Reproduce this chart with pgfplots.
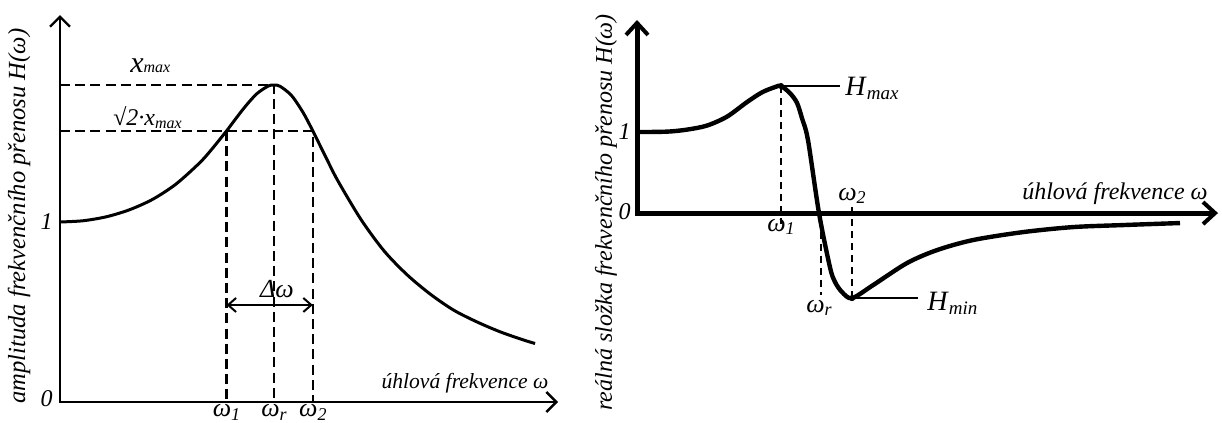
\documentclass[border=0pt]{standalone}
\usepackage{fontspec}
\setmainfont{Liberation Serif}
\usepackage{pgfplots}
\pgfplotsset{compat=1.18}
\usetikzlibrary{arrows.meta}
\newcommand{\om}[1]{\textit{ω}\raisebox{-1.6pt}{\fontsize{9}{9}\selectfont\textit{#1}}}
\newcommand{\Hs}[1]{{\fontsize{14}{14}\selectfont\textit{H}}\raisebox{-2.2pt}{\fontsize{9.5}{9.5}\selectfont\textit{#1}}}
\begin{document}
\begin{tikzpicture}
\path[use as bounding box] (0pt,0pt) rectangle (611pt,-211.5pt);
% ---------------- left panel ----------------
\begin{axis}[at={(30pt,-201pt)}, anchor=south west, scale only axis,
  width=249pt, height=193.5pt, xmin=0, xmax=2.150, ymin=0, ymax=2.15,
  axis lines=none, clip=false]
\addplot[line width=1.2pt, {Straight Barb[length=5pt,width=10pt,line width=1.2pt]}-{Straight Barb[length=5pt,width=10pt,line width=1.2pt]}] coordinates {(0,2.15) (0,0) (2.150,0)};
\addplot[line width=1.2pt, dash pattern=on 5pt off 2.6pt] coordinates {(0,1.761) (0.924,1.761) (0.924,0)};
\addplot[line width=1.2pt, dash pattern=on 5pt off 2.6pt] coordinates {(0,1.506) (1.0915,1.506) (1.0915,0)};
\addplot[line width=1.2pt, dash pattern=on 5pt off 2.6pt] coordinates {(0.7191,1.506) (0.7191,0)};
\addplot[line width=1.5pt, smooth] coordinates {
(0,1.000) (0.1,1.007) (0.2,1.029) (0.3,1.068) (0.4,1.126) (0.5,1.210)
(0.6,1.325) (0.65,1.396) (0.7191,1.506) (0.75,1.559) (0.8,1.642) (0.85,1.713)
(0.9,1.756) (0.924,1.761) (0.95,1.754) (1.0,1.702) (1.05,1.607) (1.0915,1.506)
(1.15,1.354) (1.2,1.228) (1.3,1.013) (1.4,0.838) (1.5,0.705) (1.6,0.598)
(1.7,0.510) (1.8,0.445) (1.9,0.390) (2.0,0.345) (2.051,0.325)};
\addplot[line width=1pt, {Straight Barb[length=4pt,width=7pt,line width=1pt]}-{Straight Barb[length=4pt,width=7pt,line width=1pt]}] coordinates {(0.7191,0.539) (1.0915,0.539)};
\node[font=\fontsize{13}{13}\selectfont] at (axis cs:0.937,0.625) {\textit{Δω}};
\node[font=\fontsize{12}{12}\selectfont, anchor=east, inner sep=0pt] at (axis cs:-0.03,1) {\textit{1}};
\node[font=\fontsize{12}{12}\selectfont, anchor=east, inner sep=0pt] at (axis cs:-0.03,0.02) {\textit{0}};
\node[font=\fontsize{13}{13}\selectfont, anchor=base, inner sep=0pt] at (axis cs:0.7191,-0.083) {\om{1}};
\node[font=\fontsize{13}{13}\selectfont, anchor=base, inner sep=0pt] at (axis cs:0.924,-0.083) {\om{r}};
\node[font=\fontsize{13}{13}\selectfont, anchor=base, inner sep=0pt] at (axis cs:1.0915,-0.083) {\om{2}};
\node[font=\fontsize{10.8}{10.8}\selectfont, anchor=base east, inner sep=0pt] at (axis cs:2.11,0.075) {\textit{úhlová frekvence ω}};
\node[inner sep=0pt] at (axis cs:0.39,1.867) {{\fontsize{15}{15}\selectfont\textit{x}}{\fontsize{8}{8}\selectfont\textit{max}}};
\node[inner sep=0pt, font=\fontsize{12}{12}\selectfont] at (axis cs:0.38,1.58) {\textit{√2·x}\textsubscript{\textit{max}}};
\node[rotate=90, inner sep=0pt, font=\fontsize{12.3}{12.3}\selectfont] at (axis cs:-0.177,1.033) {\textit{amplituda frekvenčního přenosu H(ω)}};
\end{axis}
% ---------------- right panel ----------------
\begin{axis}[at={(318.5pt,-159.2pt)}, anchor=south west, scale only axis,
  width=290.5pt, height=149.2pt, xmin=0, xmax=5.81, ymin=-1.3, ymax=2.383,
  axis lines=none, clip=false]
\addplot[line width=2.5pt, {Straight Barb[length=6pt,width=11pt,line width=2pt]}-{Straight Barb[length=6pt,width=11pt,line width=2pt]}] coordinates {(0,2.383) (0,0) (5.81,0)};
\addplot[line width=0.8pt, dash pattern=on 3.5pt off 2.5pt] coordinates {(1.44,1.568) (1.44,-0.136)};
\addplot[line width=0.8pt, dash pattern=on 3.5pt off 2.5pt] coordinates {(1.84,-0.08) (1.84,-1.01)};
\addplot[line width=0.8pt, dash pattern=on 3.5pt off 2.5pt] coordinates {(2.15,0.074) (2.15,-1.05)};
\addplot[line width=1.2pt] coordinates {(1.44,1.568) (2.03,1.568)};
\addplot[line width=1.2pt] coordinates {(2.15,-1.05) (2.81,-1.05)};
\addplot[line width=2.2pt, smooth, tension=0.5] coordinates {
(0,1.000) (0.3,1.005) (0.5,1.030) (0.7,1.080) (0.9,1.190) (1.1,1.370)
(1.25,1.490) (1.38,1.555) (1.44,1.568)
(1.53,1.48) (1.60,1.36) (1.65,1.17) (1.71,0.90) (1.82,0) (1.93,-0.67)
(1.98,-0.85) (2.05,-0.975) (2.15,-1.05) (2.36,-0.89) (2.70,-0.617)
(3.00,-0.457) (3.36,-0.333) (3.86,-0.235) (4.36,-0.173) (4.86,-0.148) (5.43,-0.123)};
\addplot[only marks, mark=*, mark size=1.3pt] coordinates {(1.44,1.568) (2.15,-1.05)};
\node[font=\fontsize{12}{12}\selectfont, anchor=east, inner sep=0pt] at (axis cs:-0.06,1) {\textit{1}};
\node[font=\fontsize{12}{12}\selectfont, anchor=east, inner sep=0pt] at (axis cs:-0.06,0.02) {\textit{0}};
\node[font=\fontsize{13}{13}\selectfont, anchor=north, inner sep=0pt] at (axis cs:1.44,-0.07) {\om{1}};
\node[font=\fontsize{13}{13}\selectfont, anchor=south, inner sep=0pt] at (axis cs:2.15,0.11) {\om{2}};
\node[font=\fontsize{13}{13}\selectfont, anchor=north, inner sep=0pt] at (axis cs:1.82,-1.07) {\om{r}};
\node[anchor=base west, inner sep=0pt] at (axis cs:2.08,1.457) {\Hs{max}};
\node[anchor=base west, inner sep=0pt] at (axis cs:2.90,-1.198) {\Hs{min}};
\node[font=\fontsize{12}{12}\selectfont, anchor=base east, inner sep=0pt] at (axis cs:5.71,0.17) {\textit{úhlová frekvence ω}};
\node[rotate=90, inner sep=0pt, font=\fontsize{12}{12}\selectfont] at (axis cs:-0.31,0.01) {\textit{reálná složka frekvenčního přenosu H(ω)}};
\end{axis}
\end{tikzpicture}
\end{document}
